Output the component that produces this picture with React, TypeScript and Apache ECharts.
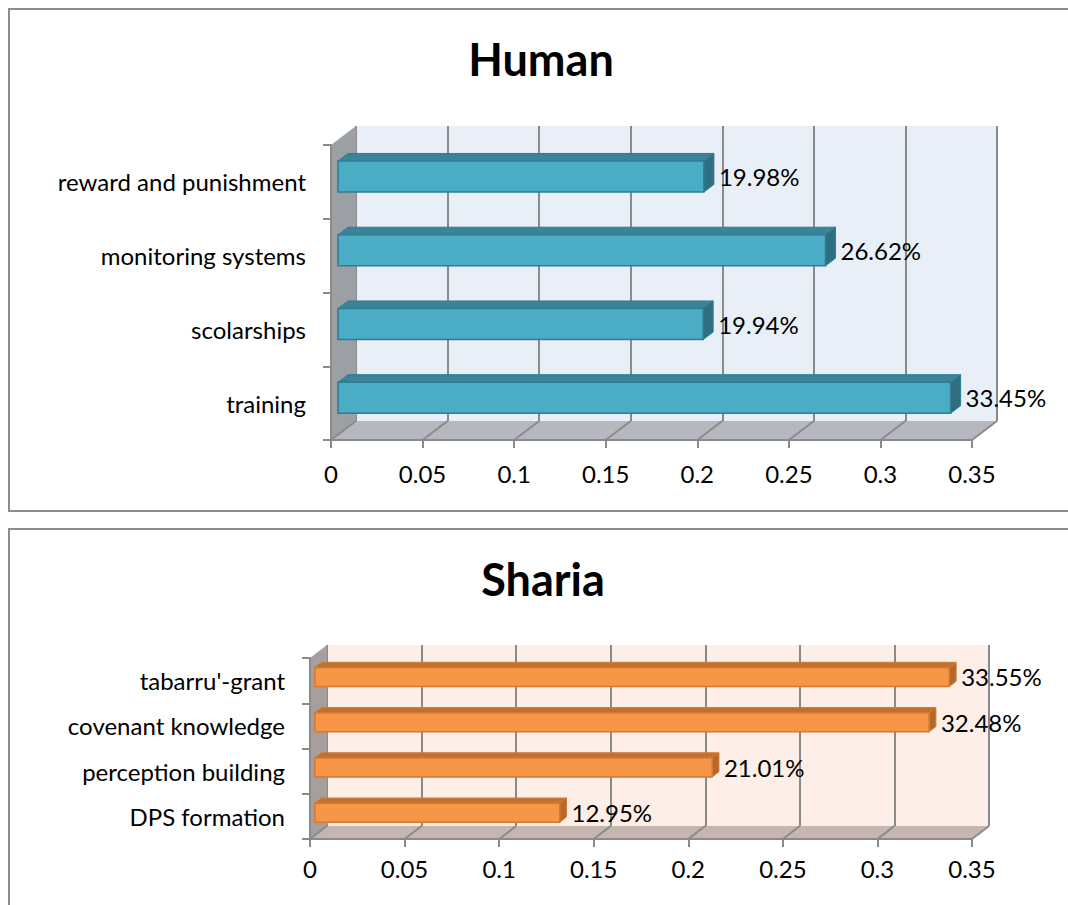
import React, { useEffect, useRef } from "react";
import * as echarts from "echarts";

// ---------- data ----------
const humanCategories = ["training", "scolarships", "monitoring systems", "reward and punishment"];
const humanValues = [0.3345, 0.1994, 0.2662, 0.1998];
const shariaCategories = ["DPS formation", "perception building", "covenant knowledge", "tabarru'-grant"];
const shariaValues = [0.1295, 0.2101, 0.3248, 0.3355];
const xTicks = [0, 0.05, 0.1, 0.15, 0.2, 0.25, 0.3, 0.35];
const titles = ["Human", "Sharia"];

const FONT = "Lato, 'Open Sans', sans-serif";

type Panel = {
  title: string;
  categories: string[];
  values: number[];
  front: { left: number; top: number; width: number; height: number };
  dx: number;
  dy: number;
  titleTop: number;
  titleLeft: number;
  labelMargin: number;
  wall: string;
  side: string;
  floor: string;
  barFront: string;
  barTop: string;
  barSide: string;
  barBorder: string;
};

const panels: Panel[] = [
  {
    title: titles[0],
    categories: humanCategories,
    values: humanValues,
    front: { left: 331, top: 145, width: 641, height: 295 },
    dx: 25,
    dy: -19,
    titleTop: 31,
    titleLeft: 536,
    labelMargin: 21,
    wall: "#E9EFF6",
    side: "#9C9FA3",
    floor: "#B5B9BD",
    barFront: "#4BACC6",
    barTop: "#3A8398",
    barSide: "#2F6F81",
    barBorder: "#2E7D92",
  },
  {
    title: titles[1],
    categories: shariaCategories,
    values: shariaValues,
    front: { left: 310, top: 658, width: 662, height: 181 },
    dx: 17,
    dy: -13,
    titleTop: 551,
    titleLeft: 538,
    labelMargin: 17,
    wall: "#FDEEE7",
    side: "#A5A09E",
    floor: "#C5B6B1",
    barFront: "#F79646",
    barTop: "#C0712F",
    barSide: "#B4682B",
    barBorder: "#D27A35",
  },
];

const GRID_LINE = "#8A8A8A";
const LABEL_SIZE = 24;

function buildOption() {
  const grid: any[] = [];
  const xAxis: any[] = [];
  const yAxis: any[] = [];
  const series: any[] = [];
  const title: any[] = [];

  panels.forEach((p, pi) => {
    const frontIdx = pi * 2;
    const backIdx = pi * 2 + 1;
    grid.push({
      left: p.front.left,
      top: p.front.top,
      width: p.front.width,
      height: p.front.height,
      containLabel: false,
    });
    grid.push({
      left: p.front.left + p.dx,
      top: p.front.top + p.dy,
      width: p.front.width,
      height: p.front.height,
      show: true,
      backgroundColor: p.wall,
      borderWidth: 0,
      z: 0,
    });
    // front axes
    xAxis.push({
      type: "value",
      gridIndex: frontIdx,
      min: 0,
      max: 0.35,
      interval: 0.05,
      z: 6,
      axisLine: { show: true, lineStyle: { color: GRID_LINE, width: 2 } },
      axisTick: { show: true, length: 8, lineStyle: { color: GRID_LINE, width: 2 } },
      splitLine: { show: false },
      axisLabel: {
        margin: p.labelMargin,
        color: "#000",
        fontSize: LABEL_SIZE,
        fontFamily: FONT,
        formatter: (v: number) => String(+v.toFixed(2)),
      },
    });
    yAxis.push({
      type: "category",
      gridIndex: frontIdx,
      data: p.categories,
      z: 6,
      axisLine: { show: true, lineStyle: { color: GRID_LINE, width: 2 } },
      axisTick: { show: true, length: 8, lineStyle: { color: GRID_LINE, width: 2 } },
      axisLabel: { margin: 25, color: "#000", fontSize: LABEL_SIZE, fontFamily: FONT },
    });
    // back axes
    xAxis.push({
      type: "value",
      gridIndex: backIdx,
      min: 0,
      max: 0.35,
      interval: 0.05,
      axisLine: { show: false },
      axisTick: { show: false },
      axisLabel: { show: false },
      splitLine: { show: true, lineStyle: { color: GRID_LINE, width: 2 } },
    });
    yAxis.push({
      type: "category",
      gridIndex: backIdx,
      data: p.categories,
      show: false,
    });

    // walls & floor
    series.push({
      type: "custom",
      xAxisIndex: frontIdx,
      yAxisIndex: frontIdx,
      z: 2,
      silent: true,
      data: [[0, 0]],
      renderItem: (params: any, api: any) => {
        const cs = params.coordSys;
        const x = cs.x, y = cs.y, w = cs.width, h = cs.height;
        const dx = p.dx, dy = p.dy;
        const children: any[] = [];
        children.push({
          type: "polygon",
          shape: { points: [[x, y + h], [x + w, y + h], [x + w + dx, y + h + dy], [x + dx, y + h + dy]] },
          style: { fill: p.floor, stroke: "none" },
        });
        children.push({
          type: "polygon",
          shape: { points: [[x, y], [x + dx, y + dy], [x + dx, y + h + dy], [x, y + h]] },
          style: { fill: p.side, stroke: "none" },
        });
        xTicks.forEach((t) => {
          const px = api.coord([t, 0])[0];
          children.push({
            type: "line",
            shape: { x1: px, y1: y + h, x2: px + dx, y2: y + h + dy },
            style: { stroke: GRID_LINE, lineWidth: 2 },
          });
        });
        return { type: "group", children };
      },
    });

    // 3D bars
    series.push({
      type: "custom",
      xAxisIndex: frontIdx,
      yAxisIndex: frontIdx,
      z: 4,
      data: p.values.map((v, i) => [v, i]),
      encode: { x: 0, y: 1 },
      renderItem: (params: any, api: any) => {
        const v = api.value(0);
        const i = api.value(1);
        const p0 = api.coord([0, i]);
        const p1 = api.coord([v, i]);
        const band = api.size([0, 1])[1];
        const bh = band * 0.42;
        const f = 0.28, d = 0.4;
        const ox = p.dx * f, oy = p.dy * f;
        const ddx = p.dx * d, ddy = p.dy * d;
        const x0 = p0[0] + ox;
        const x1 = p1[0] + ox;
        const yc = p0[1] + oy;
        const yt = yc - bh / 2;
        const yb = yc + bh / 2;
        return {
          type: "group",
          children: [
            {
              type: "polygon",
              shape: { points: [[x0, yt], [x1, yt], [x1 + ddx, yt + ddy], [x0 + ddx, yt + ddy]] },
              style: { fill: p.barTop, stroke: p.barBorder, lineWidth: 1 },
            },
            {
              type: "polygon",
              shape: { points: [[x1, yt], [x1 + ddx, yt + ddy], [x1 + ddx, yb + ddy], [x1, yb]] },
              style: { fill: p.barSide, stroke: p.barBorder, lineWidth: 1 },
            },
            {
              type: "rect",
              shape: { x: x0, y: yt, width: x1 - x0, height: bh },
              style: { fill: p.barFront, stroke: p.barBorder, lineWidth: 1.5 },
            },
            {
              type: "text",
              x: x1 + ddx + 5,
              y: yc,
              style: {
                text: (v * 100).toFixed(2) + "%",
                fill: "#000",
                fontSize: LABEL_SIZE,
                fontFamily: FONT,
                align: "left",
                verticalAlign: "middle",
              },
            },
          ],
        };
      },
    });

    title.push({
      text: p.title,
      left: p.titleLeft,
      top: p.titleTop,
      textAlign: "center",
      textStyle: { fontSize: 45, fontWeight: "bold", color: "#000", fontFamily: FONT },
    });
  });

  return {
    animation: false,
    backgroundColor: "#fff",
    title,
    grid,
    xAxis,
    yAxis,
    series,
    graphic: [
      {
        type: "rect",
        shape: { x: 9, y: 9, width: 1080, height: 502 },
        style: { fill: "none", stroke: "#8C8C8C", lineWidth: 2 },
        z: -1,
      },
      {
        type: "rect",
        shape: { x: 9, y: 529, width: 1080, height: 420 },
        style: { fill: "none", stroke: "#8C8C8C", lineWidth: 2 },
        z: -1,
      },
    ],
  };
}

export default function App() {
  const ref = useRef<HTMLDivElement>(null);
  useEffect(() => {
    document.body.style.margin = "0";
    if (!ref.current) return;
    const chart = echarts.init(ref.current, undefined, { renderer: "svg" });
    chart.setOption(buildOption() as any);
    return () => chart.dispose();
  }, []);
  return <div ref={ref} style={{ width: 1068, height: 905 }} />;
}
